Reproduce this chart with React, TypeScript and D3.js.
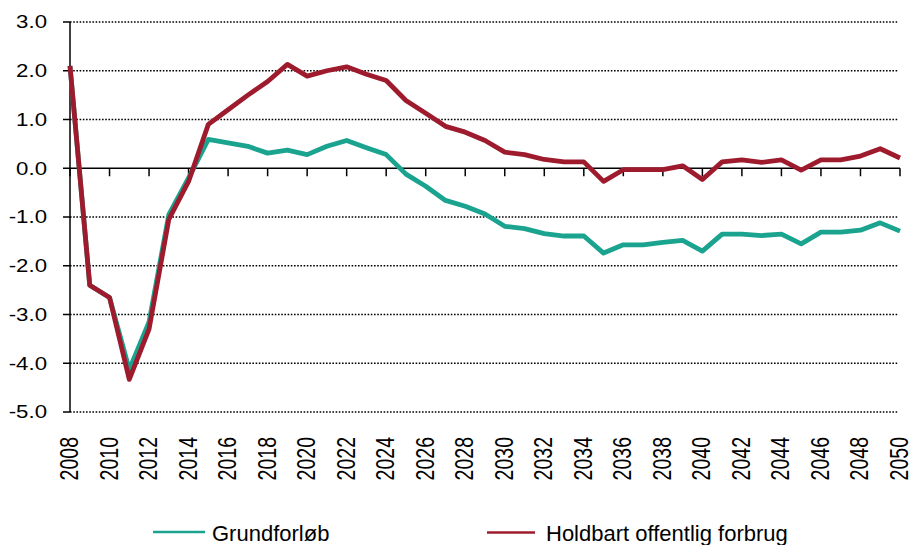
import React from "react";
import * as d3 from "d3";

const years: number[] = d3.range(2008, 2051);

const grundforlob: number[] = [
  2.1, -2.4, -2.65, -4.13, -3.15, -0.95, -0.2, 0.59, 0.52, 0.45,
  0.31, 0.37, 0.28, 0.45, 0.57, 0.42, 0.28, -0.12, -0.37, -0.66,
  -0.78, -0.94, -1.19, -1.24, -1.34, -1.39, -1.39, -1.74, -1.57, -1.57,
  -1.52, -1.48, -1.7, -1.35, -1.35, -1.38, -1.35, -1.55, -1.31, -1.31,
  -1.27, -1.12, -1.29,
];

const holdbart: number[] = [
  2.1, -2.4, -2.65, -4.33, -3.3, -1.05, -0.27, 0.9, 1.2, 1.5,
  1.78, 2.13, 1.89, 2.0, 2.08, 1.93, 1.8, 1.39, 1.13, 0.86,
  0.74, 0.57, 0.33, 0.28, 0.18, 0.13, 0.13, -0.27, -0.03, -0.03,
  -0.03, 0.05, -0.23, 0.13, 0.17, 0.12, 0.17, -0.04, 0.17, 0.17,
  0.25, 0.4, 0.21,
];

const yTicks: number[] = [3, 2, 1, 0, -1, -2, -3, -4, -5];
const xTickYears: number[] = d3.range(2008, 2051, 2);

const seriesNames: string[] = ["Grundforløb", "Holdbart offentlig forbrug"];
const seriesColors: string[] = ["#1aa38e", "#9e1b2e"];

export default function App() {
  const x = d3.scaleLinear().domain([2008, 2050]).range([70, 900]);
  const y = d3.scaleLinear().domain([-5, 3]).range([412, 22]);
  const line = d3
    .line<number>()
    .x((_, i) => x(years[i]))
    .y((d) => y(d));
  const series = [grundforlob, holdbart];
  const font = "'Liberation Sans', Arial, sans-serif";

  return (
    <svg
      width={913}
      height={545}
      style={{ position: "absolute", left: 0, top: 0, background: "#fff" }}
      fontFamily={font}
    >
      {/* gridlines */}
      {yTicks
        .filter((t) => t !== 0)
        .map((t) => (
          <line
            key={"g" + t}
            x1={x(2008)}
            x2={898}
            y1={y(t)}
            y2={y(t)}
            stroke="#000"
            strokeWidth={1.5}
            strokeDasharray="1.6 1.6"
          />
        ))}
      {/* y axis */}
      <line x1={x(2008)} x2={x(2008)} y1={y(3)} y2={y(-5)} stroke="#000" strokeWidth={1.5} />
      {yTicks.map((t) => (
        <g key={"yt" + t}>
          <line x1={63} x2={x(2008)} y1={y(t)} y2={y(t)} stroke="#000" strokeWidth={1.5} />
          <text
            transform={`translate(47, ${y(t)}) scale(1.27, 1)`}
            dy="0.36em"
            textAnchor="end"
            fontSize={17.5}
            fill="#000"
          >
            {t.toFixed(1)}
          </text>
        </g>
      ))}
      {/* x axis */}
      <line x1={x(2008)} x2={x(2050)} y1={y(0)} y2={y(0)} stroke="#000" strokeWidth={1.5} />
      {xTickYears.map((yr) => (
        <g key={"xt" + yr}>
          <line x1={x(yr)} x2={x(yr)} y1={y(0)} y2={y(0) + 8} stroke="#000" strokeWidth={1.5} />
          <text
            transform={`translate(${x(yr) + 8}, 437) scale(1.3, 1) rotate(-90)`}
            textAnchor="end"
            fontSize={19.5}
            fill="#000"
          >
            {yr}
          </text>
        </g>
      ))}
      {/* lines */}
      {series.map((s, i) => (
        <path
          key={"s" + i}
          d={line(s) || ""}
          fill="none"
          stroke={seriesColors[i]}
          strokeWidth={4.8}
          strokeLinejoin="round"
        />
      ))}
      {/* legend */}
      <line x1={153} x2={205} y1={532} y2={532} stroke={seriesColors[0]} strokeWidth={2.5} />
      <text x={212} y={541} fontSize={22} fill="#000">
        {seriesNames[0]}
      </text>
      <line x1={487} x2={535} y1={532.5} y2={532.5} stroke={seriesColors[1]} strokeWidth={2.5} />
      <text x={546} y={541} fontSize={22} fill="#000">
        {seriesNames[1]}
      </text>
    </svg>
  );
}
